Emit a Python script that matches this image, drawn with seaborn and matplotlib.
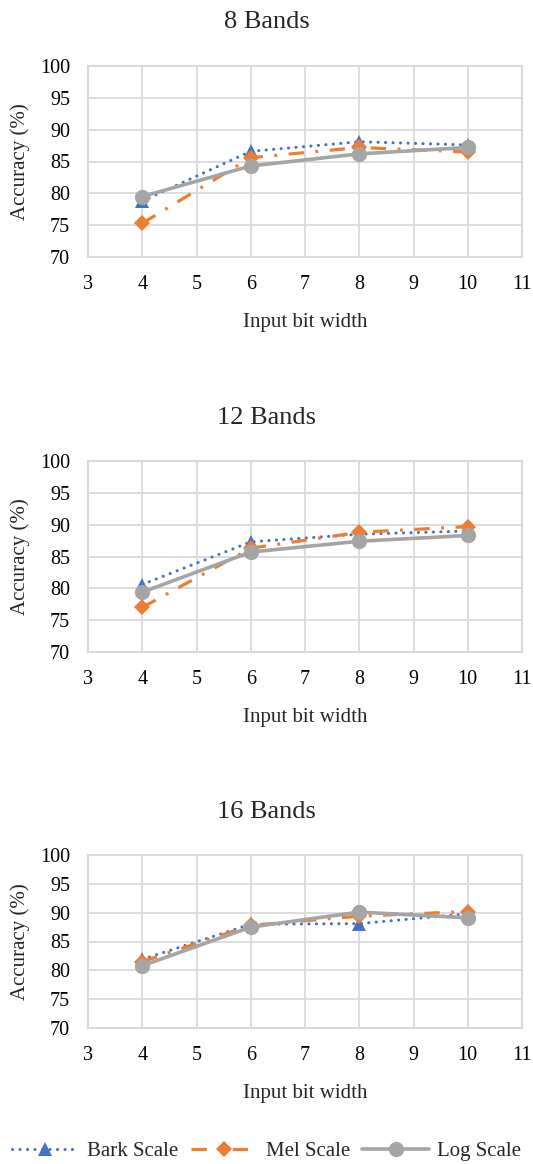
import numpy as np
import pandas as pd
import matplotlib
matplotlib.use("Agg")
import matplotlib.pyplot as plt
import seaborn as sns

# data
bits = [4, 6, 8, 10]
panel_titles = ["8 Bands", "12 Bands", "16 Bands"]

bark_8 = [78.8, 86.6, 88.1, 87.6]
mel_8 = [75.3, 85.6, 87.2, 86.5]
log_8 = [79.5, 84.3, 86.2, 87.2]

bark_12 = [80.6, 87.3, 88.5, 89.0]
mel_12 = [77.0, 86.3, 88.8, 89.7]
log_12 = [79.4, 85.7, 87.4, 88.3]

bark_16 = [81.9, 88.0, 88.1, 89.8]
mel_16 = [81.5, 87.8, 89.4, 90.2]
log_16 = [80.8, 87.5, 90.1, 89.1]

series_names = ["Bark Scale", "Mel Scale", "Log Scale"]
x_ticks = list(range(3, 12))
y_ticks = list(range(70, 101, 5))

sns.set_theme(style="white")
plt.rcParams["font.family"] = ["Liberation Serif", "DejaVu Serif"]

W, H = 533, 1164
fig = plt.figure(figsize=(W / 100, H / 100), dpi=100)

# axes boxes in pixels: (top, bottom)
left_px, right_px = 88, 522
boxes = [(66, 257), (461, 652), (855, 1028)]

styles = {
    "Bark Scale": dict(color="#4472C4", marker="^", markersize=9.5, lw=2.2,
                       linestyle=(0, (0.05, 2.4)), dash_capstyle="round"),
    "Mel Scale": dict(color="#ED7D31", marker="D", markersize=8.5, lw=2.3,
                      linestyle=(0, (4.8, 3.6, 0.9, 3.6))),
    "Log Scale": dict(color="#A5A5A5", marker="o", markersize=11, lw=2.6,
                      linestyle="-"),
}

all_data = [
    [bark_8, mel_8, log_8],
    [bark_12, mel_12, log_12],
    [bark_16, mel_16, log_16],
]

grid_c = "#D9D9D9"
for (top, bot), title, vals in zip(boxes, panel_titles, all_data):
    ax = fig.add_axes([left_px / W, 1 - bot / H, (right_px - left_px) / W, (bot - top) / H])
    for name, v in zip(series_names, vals):
        df = pd.DataFrame({"bits": bits, "acc": v})
        st = styles[name]
        sns.lineplot(data=df, x="bits", y="acc", ax=ax, errorbar=None,
                     color=st["color"], marker=st["marker"], markersize=st["markersize"],
                     markeredgewidth=0, linewidth=st["lw"], linestyle=st["linestyle"],
                     dash_capstyle=st.get("dash_capstyle", "butt"), label=name, legend=False)
    ax.set_xlim(3, 11)
    ax.set_ylim(70, 100)
    ax.set_xticks(x_ticks)
    ax.set_yticks(y_ticks)
    ax.grid(True, color=grid_c, linewidth=1.3)
    ax.set_axisbelow(True)
    for s in ax.spines.values():
        s.set_color(grid_c)
        s.set_linewidth(1.5)
    ax.tick_params(axis="both", length=0, labelsize=14.5, pad=13, colors="black")
    # chart title is centred on the whole figure width, not the plot area
    ax.set_title(title, fontsize=19, pad=27, x=(W / 2 - left_px) / (right_px - left_px))
    ax.set_xlabel("Input bit width", fontsize=15)
    ax.set_ylabel("Accuracy (%)", fontsize=15)
    hpx = bot - top
    ax.xaxis.set_label_coords(0.5, -56 / hpx)
    ax.yaxis.set_label_coords((30 - left_px) / (right_px - left_px), 0.5)

handles, labels = ax.get_legend_handles_labels()
fig.legend(handles, labels, loc="center", bbox_to_anchor=(0.5, 1 - 1151 / H), ncol=3,
           frameon=False, fontsize=15, handlelength=3.2, handletextpad=0.4,
           columnspacing=0.6, borderpad=0, borderaxespad=0)

fig.savefig("out.png", dpi=100)
